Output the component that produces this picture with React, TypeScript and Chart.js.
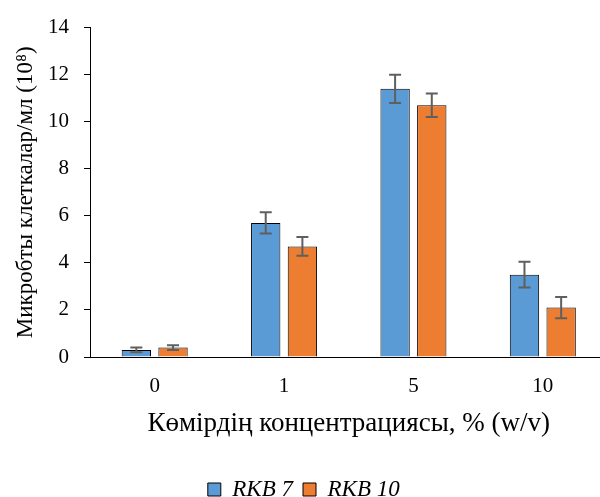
import React, { useEffect, useRef } from 'react';
import { Chart, registerables } from 'chart.js';

Chart.register(...registerables);

const categories = ['0', '1', '5', '10'];
const seriesNames = ['RKB 7', 'RKB 10'];
const rkb7 = [0.3, 5.7, 11.4, 3.5];
const rkb10 = [0.4, 4.7, 10.7, 2.1];
const err7 = [0.1, 0.45, 0.6, 0.55];
const err10 = [0.1, 0.4, 0.5, 0.45];
const yMin = 0;
const yMax = 14;
const yStep = 2;

const FONT = "'Liberation Serif', 'Times New Roman', Tinos, serif";

const errorBarPlugin = {
  id: 'errorBars',
  afterDatasetsDraw(chart: any) {
    const ctx = chart.ctx;
    const yScale = chart.scales.y;
    chart.data.datasets.forEach((ds: any, di: number) => {
      const meta = chart.getDatasetMeta(di);
      meta.data.forEach((bar: any, i: number) => {
        const v = ds.data[i];
        const e = ds.errors[i];
        const x = bar.x;
        const yt = yScale.getPixelForValue(v + e);
        const yb = yScale.getPixelForValue(v - e);
        const cap = 6;
        ctx.save();
        ctx.strokeStyle = '#5f5f5f';
        ctx.lineWidth = 2;
        ctx.beginPath();
        ctx.moveTo(x, yt);
        ctx.lineTo(x, yb);
        ctx.moveTo(x - cap, yt);
        ctx.lineTo(x + cap, yt);
        ctx.moveTo(x - cap, yb);
        ctx.lineTo(x + cap, yb);
        ctx.stroke();
        ctx.restore();
      });
    });
  },
};

export default function App() {
  const ref = useRef<HTMLCanvasElement | null>(null);

  useEffect(() => {
    let chart: any = null;
    let cancelled = false;
    const make = () => {
      if (cancelled || !ref.current) return;
      chart = new Chart(ref.current, {
        type: 'bar',
        data: {
          labels: categories,
          datasets: [
            {
              label: seriesNames[0],
              data: rkb7,
              errors: err7,
              backgroundColor: '#5B9BD5',
              borderColor: '#000000',
              borderWidth: 1,
              categoryPercentage: 0.567,
              barPercentage: 0.8,
            } as any,
            {
              label: seriesNames[1],
              data: rkb10,
              errors: err10,
              backgroundColor: '#ED7D31',
              borderColor: '#000000',
              borderWidth: 1,
              categoryPercentage: 0.567,
              barPercentage: 0.8,
            } as any,
          ],
        },
        options: {
          responsive: false,
          animation: false,
          devicePixelRatio: 1,
          layout: { padding: { left: 0, right: 4.5, top: 24.5, bottom: 0 } },
          plugins: {
            legend: {
              position: 'bottom',
              labels: {
                color: '#000',
                font: { family: FONT, size: 23, style: 'italic' },
                boxWidth: 13,
                boxHeight: 13,
                padding: 10,
              },
            },
            tooltip: { enabled: false },
          },
          scales: {
            x: {
              grid: { display: false, drawTicks: false },
              border: { display: true, color: '#000', width: 1 },
              ticks: { color: '#000', font: { family: FONT, size: 21 }, padding: 16.5 },
              title: {
                display: true,
                text: 'Көмірдің концентрациясы, % (w/v)',
                color: '#000',
                font: { family: FONT, size: 27 },
                padding: { top: 0, bottom: 28 },
              },
              afterFit(scale: any) {
                scale.height = 111;
              },
            },
            y: {
              min: yMin,
              max: yMax,
              grid: { display: true, drawOnChartArea: false, drawTicks: true, tickLength: 6, color: '#000' },
              border: { display: true, color: '#000', width: 1 },
              ticks: { stepSize: yStep, color: '#000', font: { family: FONT, size: 21 }, padding: 15 },
              title: {
                display: true,
                text: 'Микробты клеткалар/мл (10⁸)',
                color: '#000',
                font: { family: FONT, size: 23 },
                padding: { top: 12, bottom: 0 },
              },
              afterFit(scale: any) {
                scale.width = 90;
              },
            },
          },
        },
        plugins: [errorBarPlugin],
      } as any);
    };
    const fonts = (document as any).fonts;
    if (fonts && fonts.load) {
      Promise.all([
        fonts.load("21px 'Liberation Serif'"),
        fonts.load("italic 23px 'Liberation Serif'"),
      ])
        .catch(() => null)
        .then(() => make());
    } else {
      make();
    }
    return () => {
      cancelled = true;
      if (chart) chart.destroy();
    };
  }, []);

  return (
    <div
      style={{
        position: 'fixed',
        left: 0,
        top: 0,
        width: 600,
        height: 497,
        overflow: 'hidden',
        background: '#fff',
      }}
    >
      <canvas ref={ref} width={612} height={511} style={{ width: 612, height: 511, display: 'block' }} />
    </div>
  );
}
